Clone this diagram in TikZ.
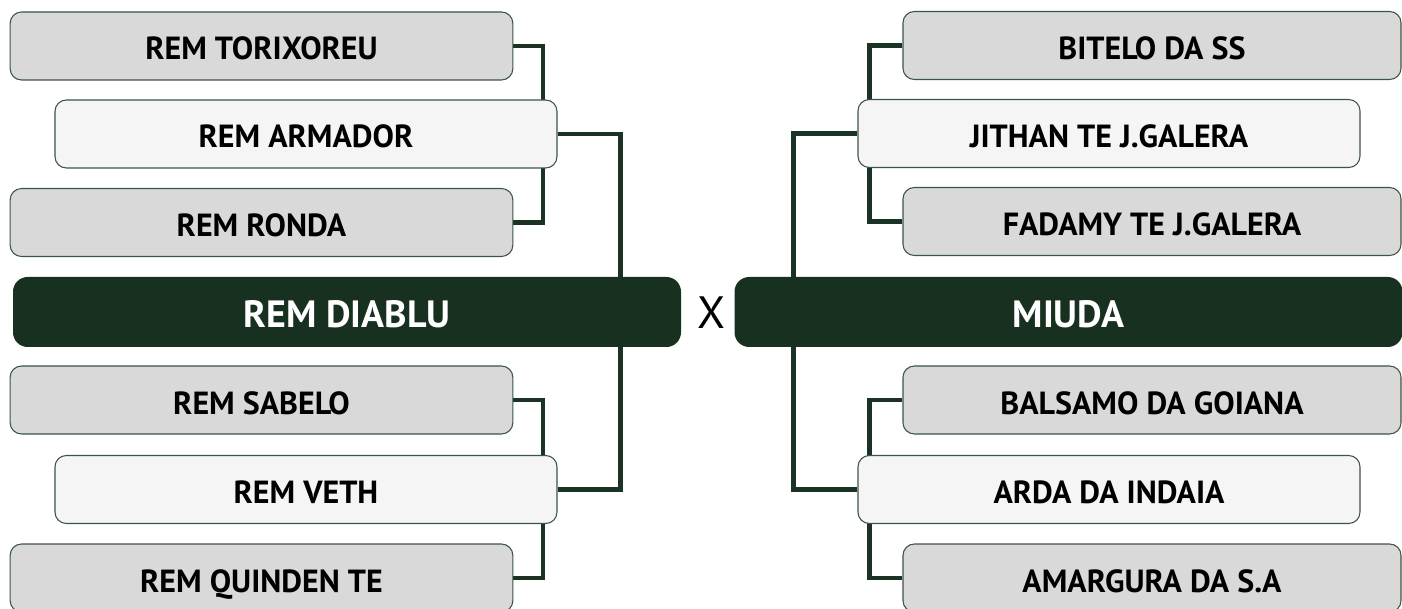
\documentclass[tikz,border=0pt]{standalone}
\usepackage{fontspec}
\setmainfont{PT Sans}
\usetikzlibrary{backgrounds}

\definecolor{bracketgreen}{HTML}{1B3324}
\definecolor{finalgreen}{HTML}{17301F}
\definecolor{teamborder}{HTML}{3A5545}
\definecolor{seedgrey}{HTML}{D9D9D9}
\definecolor{winnerwhite}{HTML}{F5F5F5}

\tikzset{%
  every team/.style={
    rectangle,
    draw=teamborder,
    line width=0.8pt,
    rounded corners=8.5pt,
    minimum height=51pt,
    text=black,
    text height=21pt,
    text depth=0pt,
    font=\bfseries\fontsize{24}{28}\selectfont
  },
  team seed/.style={
    fill=seedgrey,
    minimum width=377pt
  },
  team winner/.style={
    fill=winnerwhite,
    minimum width=376.5pt
  },
  team final/.style={
    draw=none,
    fill=finalgreen,
    text=white,
    rounded corners=11pt,
    minimum height=52.5pt,
    minimum width=501pt,
    text height=23.8pt,
    font=\bfseries\fontsize{28.5}{32}\selectfont
  },
  bracket line/.style={
    draw=bracketgreen,
    line width=3.4pt
  },
}

\begin{document}
\begin{tikzpicture}[x=0.75pt, y=-0.75pt]

\useasboundingbox (0,0) rectangle (1402,609);

% left bracket
\foreach \m/\l/\y in {torixoreu/REM TORIXOREU/46, ronda/REM RONDA/222.5,
    sabelo/REM SABELO/400, quinden/REM QUINDEN TE/578}
  \node [every team/.try, team seed/.try] (left-\m) at (261.5,\y) {\l};

\foreach \m/\l/\y in {armador/REM ARMADOR/134, veth/REM VETH/489.5}
  \node [every team/.try, team winner/.try] (left-\m) at (306,\y) {\l};

\node [every team/.try, team final/.try] (left-final) at (347,312) {REM DIABLU};

% right bracket
\foreach \m/\l/\y in {bitelo/BITELO DA SS/45.5, fadamy/FADAMY TE J.GALERA/221.5,
    balsamo/BALSAMO DA GOIANA/400, amargura/AMARGURA DA S.A/578}
  \node [every team/.try, team seed/.try, minimum width=373.5pt] (right-\m) at (1152,\y) {\l};

\foreach \m/\l/\y in {jithan/JITHAN TE J.GALERA/133.5, arda/ARDA DA INDAIA/489.5}
  \node [every team/.try, team winner/.try] (right-\m) at (1109,\y) {\l};

\node [every team/.try, team final/.try] (right-final) at (1068.5,312) {MIUDA};

\node [font=\fontsize{34}{38}\selectfont] (versus) at (711.5,313) {X};

\begin{scope}[on background layer]
  \foreach \a/\b in {torixoreu/ronda, sabelo/quinden}
    \draw [bracket line] (left-\a.east) -- ++(29.5,0) |- (left-\b.east);
  \draw [bracket line] (left-armador.east) -- ++(63,0) |- (left-veth.east);

  \foreach \a/\b in {bitelo/fadamy, balsamo/amargura}
    \draw [bracket line] (right-\a.west) -- ++(-33,0) |- (right-\b.west);
  \draw [bracket line] (right-jithan.west) -- ++(-64,0) |- (right-arda.west);
\end{scope}

\end{tikzpicture}
\end{document}
